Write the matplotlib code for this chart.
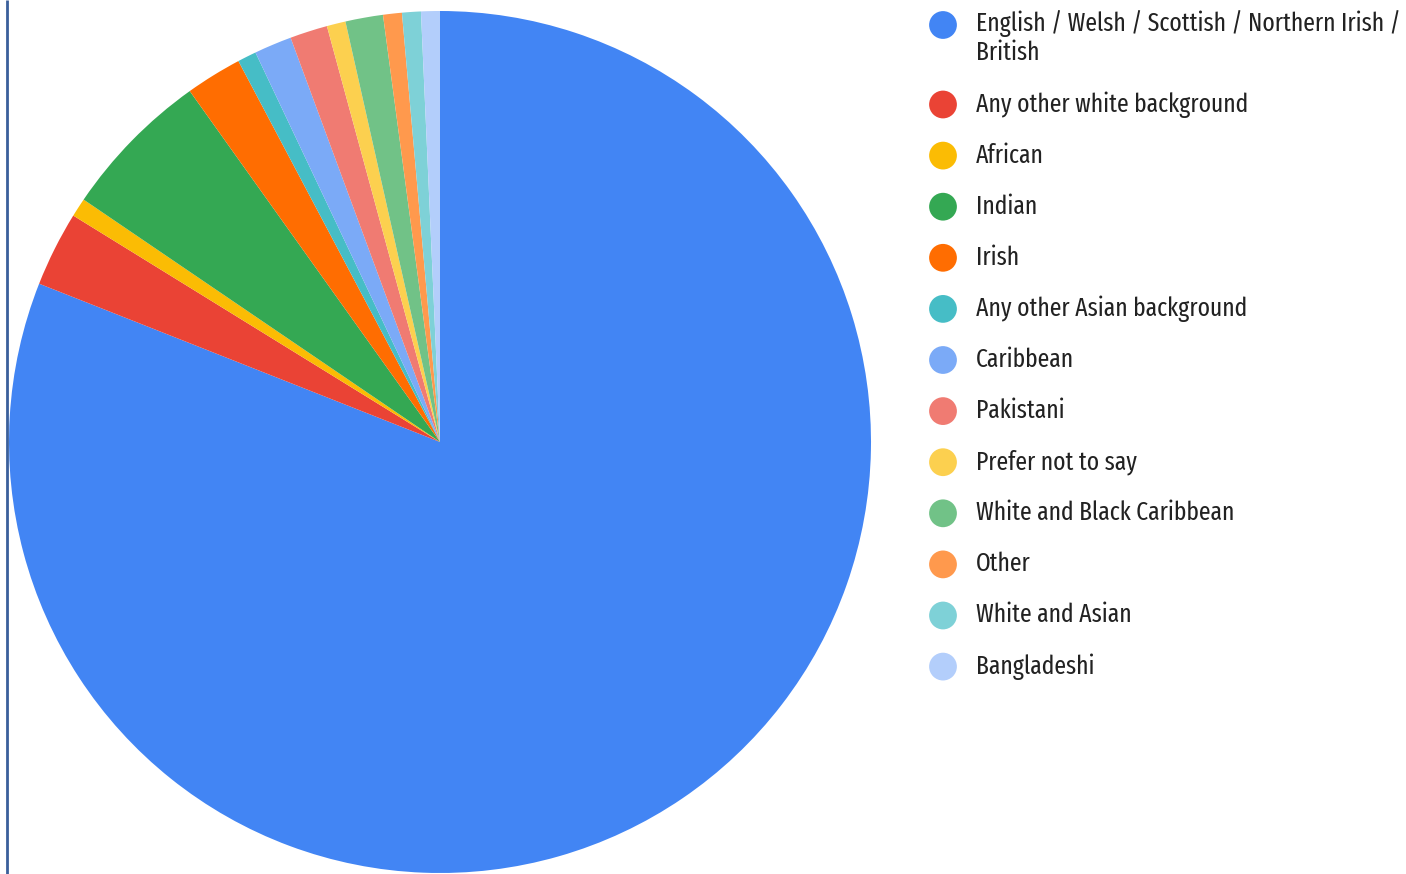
import matplotlib
matplotlib.use('Agg')
from matplotlib import pyplot as plt
from matplotlib import font_manager as fm

labels = [
    "English / Welsh / Scottish / Northern Irish /\nBritish",
    "Any other white background",
    "African",
    "Indian",
    "Irish",
    "Any other Asian background",
    "Caribbean",
    "Pakistani",
    "Prefer not to say",
    "White and Black Caribbean",
    "Other",
    "White and Asian",
    "Bangladeshi",
]
counts = [115, 4, 1, 8, 3, 1, 2, 2, 1, 2, 1, 1, 1]
colors = ["#4285F4", "#EA4335", "#FBBC04", "#34A853", "#FF6D01", "#46BDC6",
          "#7BAAF7", "#F07B72", "#FCD04F", "#71C287", "#FF994D", "#7ED1D7",
          "#B3CEFB"]

W, H = 1406, 874
fig = plt.figure(figsize=(W / 100, H / 100), dpi=100)
ax = fig.add_axes([0, 0, 1, 1])

# legend face: a narrow sans around 19pt whose width suits the legend column
renderer = fig.canvas.get_renderer()
faces = [fm.FontProperties(fname=f.fname, size=19) for f in fm.fontManager.ttflist
         if f.style == 'normal' and f.weight in (400, 'normal', 'regular')
         and ('Narrow' in f.name or 'Condensed' in f.name
              or f.stretch in ('condensed', 'semi-condensed', 'extra-condensed'))]
if not faces:
    faces = [fm.FontProperties(family='Roboto', size=19)]


def text_width(s, prop):
    return renderer.get_text_width_height_descent(s, prop, ismath=False)[0]


target = 279
best = None
for prop in faces:
    w = text_width(labels[1], prop)
    if best is None or abs(w - target) < best[0]:
        best = (abs(w - target), prop)
legend_font = best[1].copy()
first_line = labels[0].split('\n')[0]
scale = min(target / text_width(labels[1], legend_font),
            424 / text_width(first_line, legend_font))
legend_font.set_size(19 * scale)

# pie in pixel units, first slice starting at 12 o'clock, clockwise
ax.pie(counts, colors=colors, startangle=90, counterclock=False,
       center=(440, H - 442), radius=431,
       wedgeprops=dict(edgecolor='none', linewidth=0, antialiased=True))
ax.set_aspect('auto')
ax.set_xlim(0, W)
ax.set_ylim(0, H)
ax.axis('off')

# thin frame line on the left edge
ax.plot([7, 7], [0, H], color="#3A5F9B", lw=2, solid_capstyle='butt')

# legend
for i, (lab, col) in enumerate(zip(labels, colors)):
    y = 25 if i == 0 else 104.5 + 51.1 * (i - 1)
    ax.scatter(943, H - y, s=400, color=col, edgecolors='none')
    # va='baseline' pins the last line, so shift wrapped labels down
    base = y + 7 + 28 * lab.count('\n')
    ax.text(976, H - base, lab, fontproperties=legend_font, color="#222222",
            va='baseline', ha='left', linespacing=1.15)

fig.savefig("out.png", dpi=100)
